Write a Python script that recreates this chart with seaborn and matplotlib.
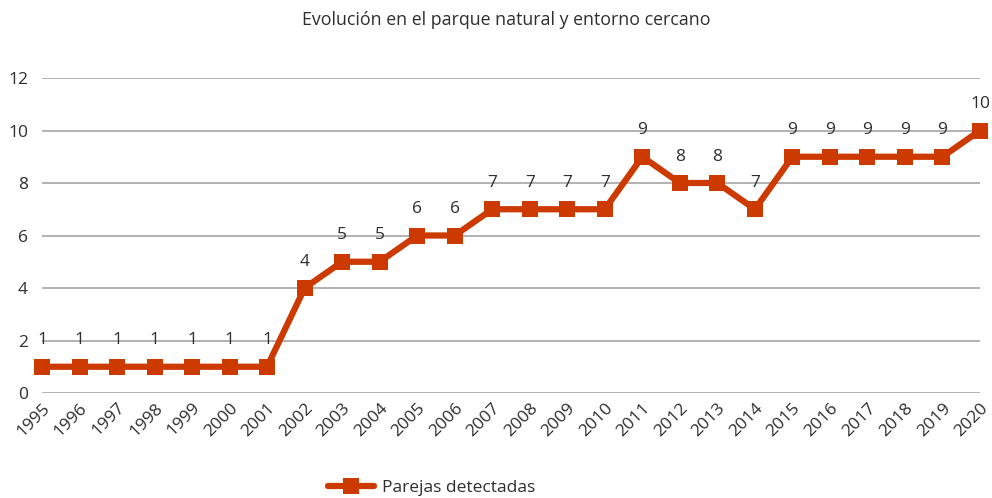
import matplotlib
matplotlib.use("Agg")
import matplotlib.pyplot as plt
import seaborn as sns
import pandas as pd

years = [str(y) for y in range(1995, 2021)]
values = [1, 1, 1, 1, 1, 1, 1, 4, 5, 5, 6, 6, 7, 7, 7, 7, 9, 8, 8, 7, 9, 9, 9, 9, 9, 10]
title = "Evolución en el parque natural y entorno cercano"
series_name = "Parejas detectadas"
yticks = [0, 2, 4, 6, 8, 10, 12]

sns.set_theme(style="white")
plt.rcParams['font.family'] = ['Open Sans', 'DejaVu Sans']

df = pd.DataFrame({"year": years, "value": values, "x": range(len(years))})
color = "#CC3A00"
textc = "#2E2E2E"

fig = plt.figure(figsize=(9.92, 4.98), dpi=100)
ax = fig.add_axes([42/992, 1-393/498, (980-42)/992, (393-78)/498])

sns.lineplot(data=df, x="x", y="value", ax=ax, color=color, linewidth=4.5,
             marker="s", markersize=11, markeredgewidth=0, label=series_name)

for xi, v in zip(df["x"], df["value"]):
    ax.annotate(str(v), (xi, v), xytext=(0, 19), textcoords="offset points",
                ha="center", va="center", fontsize=12.5, color=textc)

ax.set_xlim(0, len(years) - 1)
ax.set_ylim(0, 12)
ax.set_yticks(yticks)
ax.set_yticklabels([str(t) for t in yticks], fontsize=12.5, color=textc)
ax.set_xticks(df["x"])
ax.set_xticklabels(years, rotation=45, ha="right", rotation_mode="anchor",
                   fontsize=12.5, color=textc)
ax.tick_params(axis="both", length=0)
ax.tick_params(axis="y", pad=10)
ax.tick_params(axis="x", pad=5)
ax.yaxis.grid(True, color="#A6A6A6", linewidth=1.2)
ax.set_axisbelow(True)
for s in ax.spines.values():
    s.set_visible(False)
ax.set_xlabel("")
ax.set_ylabel("")
for line in ax.lines:
    line.set_clip_on(False)

fig.text(506/992, 1-20/498, title, ha="center", va="center", fontsize=12.8, color=textc)

ax.legend(loc="center", bbox_to_anchor=(432/992, 1-488/498), bbox_transform=fig.transFigure,
          frameon=False, fontsize=12.5, handlelength=2.6, handletextpad=0.5, labelcolor=textc)

fig.savefig("out.png", dpi=100)
